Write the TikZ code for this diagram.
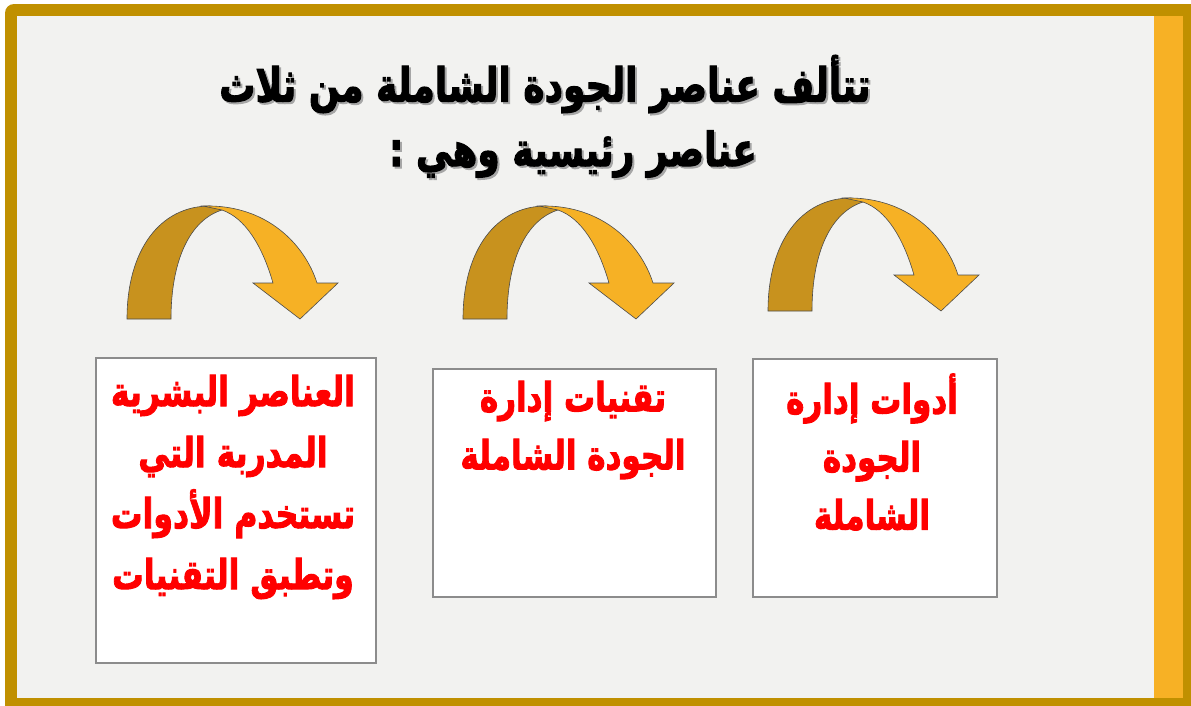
\documentclass[tikz,border=0pt]{standalone}
\usepackage{fontspec}
\usepackage{graphicx}
\TeXXeTstate=1
\newfontfamily\arabicfont[Script=Arabic, FakeBold=2.5]{DejaVu Sans Bold}
\newcommand{\arline}[1]{\scalebox{1}[1.3]{\beginR #1\endR}}
\definecolor{gold}{HTML}{C09000}
\definecolor{strip}{HTML}{F7B125}
\definecolor{bgpanel}{HTML}{F2F2F0}
\definecolor{darkarr}{HTML}{C8921E}
\definecolor{lightarr}{HTML}{F6B125}
\definecolor{boxline}{HTML}{8C8C8C}
\definecolor{redtxt}{HTML}{FF0000}
\tikzset{
  boxnode/.style={draw=boxline, line width=1.5pt, fill=white, anchor=north west, inner sep=0pt},
  redtext/.style={text=redtxt, align=center, font=\arabicfont\bfseries\fontsize{31}{58}\selectfont},
  redtextwide/.style={text=redtxt, align=center, font=\arabicfont\bfseries\fontsize{31.5}{61}\selectfont},
  titletext/.style={align=center, font=\arabicfont\bfseries\fontsize{36}{70}\selectfont},
  curvarrow/.pic={
    \filldraw[fill=darkarr, draw=black!70, line width=0.6pt]
      (0,0) .. controls (0,-69) and (33,-113) .. (83,-113) -- (95,-109)
      .. controls (63,-99) and (44,-59) .. (44,0) -- cycle;
    \filldraw[fill=lightarr, draw=black!70, line width=0.6pt]
      (76,-113) .. controls (140,-115) and (178,-74) .. (190,-36) -- (211,-36) -- (173,0) -- (126,-36) -- (146,-36)
      .. controls (135,-74) and (118,-101) .. (95,-109) -- cycle;
  }
}
\begin{document}
\begin{tikzpicture}[x=1pt,y=-1pt]
\useasboundingbox (0,0) rectangle (1191,705);
\clip (0,0) rectangle (1191,705);
\fill[white] (0,0) rectangle (1191,705);
\fill[gold, rounded corners=9pt] (5,4) rectangle (1220,730);
\fill[bgpanel] (17,16) rectangle (1183,698);
\fill[strip] (1154,16) rectangle (1183,698);
% title (with its light shadow)
\node[titletext, text=black!35] (titleshadow) at (547,86) {\arline{تتألف عناصر الجودة الشاملة من ثلاث}};
\node[titletext] (title1) at (545,84) {\arline{تتألف عناصر الجودة الشاملة من ثلاث}};
\node[titletext, text=black!35] (title2shadow) at (575,156) {\arline{عناصر رئيسية وهي :}};
\node[titletext] (title2) at (573,154) {\arline{عناصر رئيسية وهي :}};
% arrows
\pic (arrow1) at (127,319) {curvarrow};
\pic (arrow2) at (463,319) {curvarrow};
\pic (arrow3) at (768,311) {curvarrow};
% boxes
\node[boxnode, minimum width=280pt, minimum height=305pt] (box1) at (95,357) {};
\node[boxnode, minimum width=283pt, minimum height=228pt] (box2) at (432,368) {};
\node[boxnode, minimum width=244pt, minimum height=238pt] (box3) at (752,358) {};
\node[redtextwide] (text1) at (233,487) {\arline{العناصر البشرية}\\\arline{المدربة التي}\\\arline{تستخدم الأدوات}\\\arline{وتطبق التقنيات}};
\node[redtext] (text2) at (573,430) {\arline{تقنيات إدارة}\\\arline{الجودة الشاملة}};
\node[redtext] (text3) at (872,452) {\arline{أدوات إدارة}\\\arline{الجودة}\\\arline{الشاملة}};
\end{tikzpicture}
\end{document}
